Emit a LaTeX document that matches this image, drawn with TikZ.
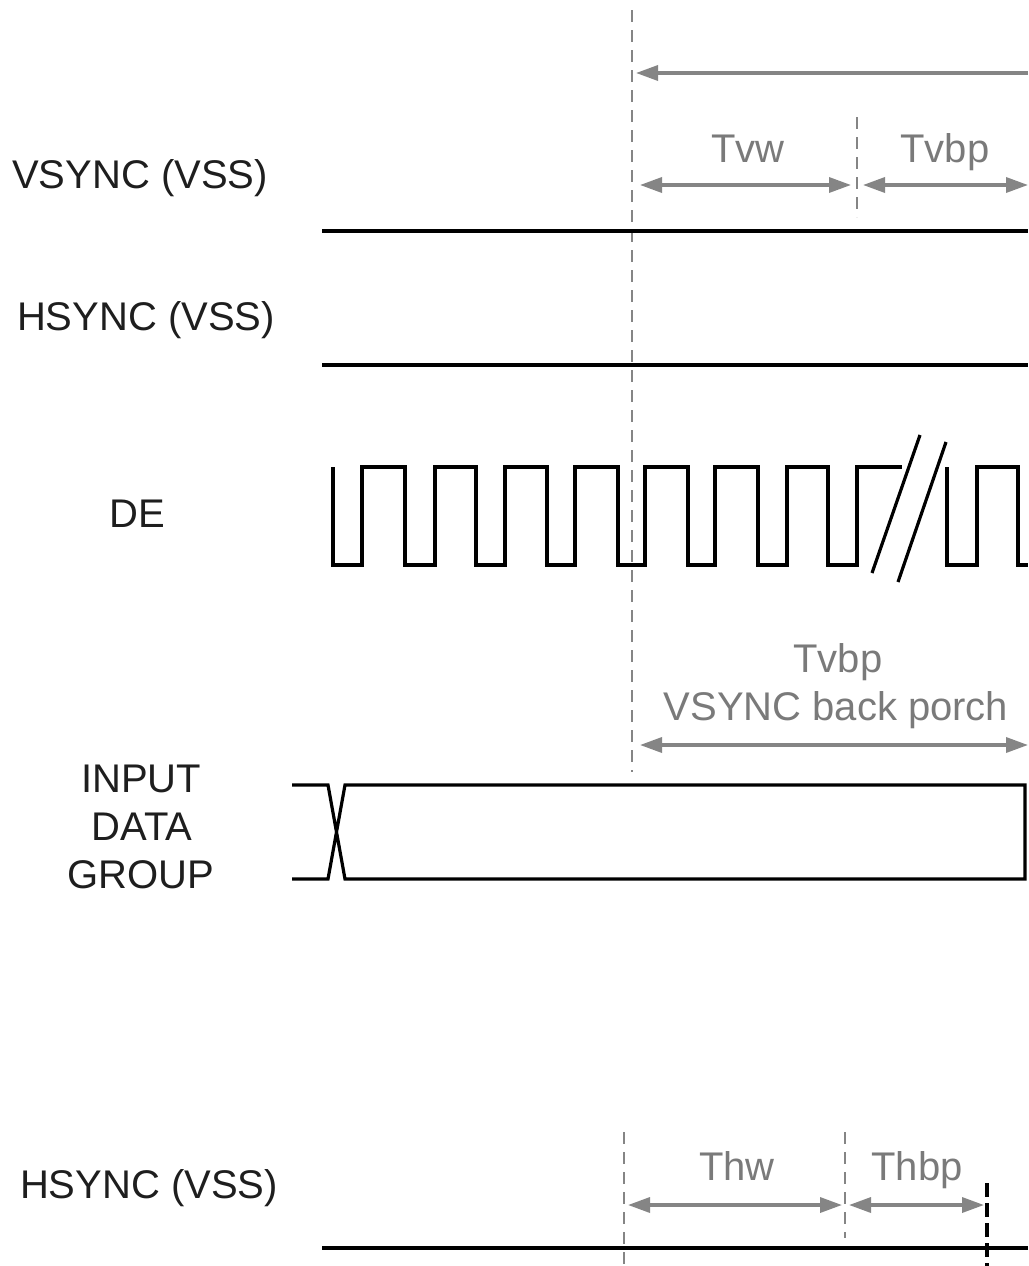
\documentclass[tikz,border=0pt]{standalone}
\usepackage{fontspec}
\setmainfont{Liberation Sans}
\usetikzlibrary{arrows.meta}
\definecolor{dimgray}{HTML}{858585}
\definecolor{textgray}{HTML}{7A7A7A}
\definecolor{labelblack}{HTML}{1E1E1E}
\begin{document}
\begin{tikzpicture}[x=1pt,y=-1pt,
  sig/.style={line width=3.2pt, black},
  tipA/.tip={Triangle[length=22pt,width=15pt]},
  dim/.style={line width=3.4pt, draw=dimgray, fill=dimgray},
  guide/.style={line width=2.4pt, draw=dimgray, dash pattern=on 12pt off 8pt},
  lbl/.style={font=\fontsize{40}{48}\selectfont, text=labelblack, anchor=base, inner sep=0pt},
  glbl/.style={lbl, text=textgray}]
\useasboundingbox[fill=white] (0,0) rectangle (1028,1266);

% ---- left labels
\node[lbl] (lvs) at (140,188) {VSYNC (VSS)};
\node[lbl] (lhs) at (146,330) {HSYNC (VSS)};
\node[lbl] (lde) at (137,527) {DE};
\node[lbl] (lin) at (141,792) {INPUT};
\node[lbl] (lda) at (142,840) {DATA};
\node[lbl] (lgr) at (141,888) {GROUP};
\node[lbl] (lhs2) at (149,1198) {HSYNC (VSS)};

% ---- guide lines (top section)
\coordinate (g1t) at (632,10);
\coordinate (g1b) at (632,772);
\draw[guide] (g1t) -- (g1b);
\coordinate (g2t) at (857,117);
\coordinate (g2b) at (857,217);
\draw[guide] (g2t) -- (g2b);

% ---- dimension arrows (top)
\coordinate (a0l) at (636,73);
\coordinate (a0r) at (1028,73);
\draw[dim, {tipA}-] (a0l) -- (a0r);
\coordinate (a1l) at (640,185);
\coordinate (a1r) at (851,185);
\draw[dim, {tipA}-{tipA}] (a1l) -- (a1r);
\coordinate (a2l) at (863,185);
\coordinate (a2r) at (1028,185);
\draw[dim, {tipA}-{tipA}] (a2l) -- (a2r);
\node[glbl] (tvw) at (748,162) {Tvw};
\node[glbl] (tvbp) at (945,162) {Tvbp};

% ---- VSYNC / HSYNC levels
\coordinate (vsl) at (322,231);
\coordinate (vsr) at (1028,231);
\draw[sig] (vsl) -- (vsr);
\coordinate (hsl) at (322,365);
\coordinate (hsr) at (1028,365);
\draw[sig] (hsl) -- (hsr);

% ---- DE waveform
\draw[sig] (333,467) -- (333,565) -- (362,565) -- (362,467) -- (405,467) -- (405,565)
  -- (435,565) -- (435,467) -- (476,467) -- (476,565) -- (505,565) -- (505,467)
  -- (547,467) -- (547,565) -- (575,565) -- (575,467) -- (618,467) -- (618,565)
  -- (645,565) -- (645,467) -- (688,467) -- (688,565) -- (715,565) -- (715,467)
  -- (758,467) -- (758,565) -- (787,565) -- (787,467) -- (828,467) -- (828,565)
  -- (857,565) -- (857,467) -- (902,467);
\draw[sig] (947,467) -- (947,565) -- (977,565) -- (977,467) -- (1018,467) -- (1018,565) -- (1028,565);
\draw[sig] (920,435) -- (872,573);
\draw[sig] (946,442) -- (898,582);

% ---- VSYNC back porch
\node[glbl] (tvbp2) at (838,672) {Tvbp};
\node[glbl] (vbp) at (836,720) {VSYNC back porch};
\coordinate (a3l) at (640,745);
\coordinate (a3r) at (1028,745);
\draw[dim, {tipA}-{tipA}] (a3l) -- (a3r);

% ---- input data group bus
\draw[sig] (292,785) -- (328,785) -- (345,879) -- (1025,879) -- (1025,785) -- (345,785) -- (328,879) -- (292,879);

% ---- bottom HSYNC section
\coordinate (g3t) at (624,1132);
\coordinate (g3b) at (624,1266);
\draw[guide] (g3t) -- (g3b);
\coordinate (g4t) at (845,1132);
\coordinate (g4b) at (845,1238);
\draw[guide] (g4t) -- (g4b);
\coordinate (g5t) at (987,1183);
\coordinate (g5b) at (987,1266);
\draw[line width=3.4pt, black, dash pattern=on 14pt off 6pt] (g5t) -- (g5b);
\coordinate (a4l) at (628,1205);
\coordinate (a4r) at (842,1205);
\draw[dim, {tipA}-{tipA}] (a4l) -- (a4r);
\coordinate (a5l) at (849,1205);
\coordinate (a5r) at (984,1205);
\draw[dim, {tipA}-{tipA}] (a5l) -- (a5r);
\node[glbl] (thw) at (737,1180) {Thw};
\node[glbl] (thbp) at (917,1180) {Thbp};
\coordinate (hs2l) at (322,1248);
\coordinate (hs2r) at (1028,1248);
\draw[sig] (hs2l) -- (hs2r);
\end{tikzpicture}
\end{document}
